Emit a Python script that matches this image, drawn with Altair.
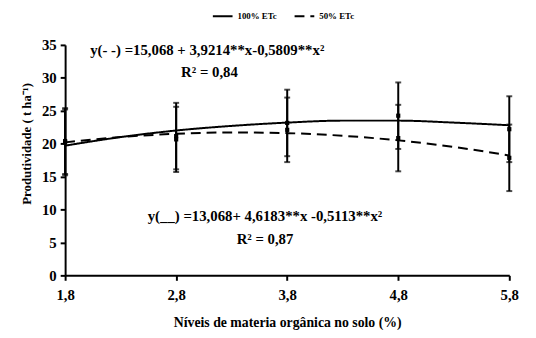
import altair as alt
import pandas as pd

# Fitted curves
curve_x = [1.8, 2.3, 2.8, 3.3, 3.8, 4.3, 4.8, 5.3, 5.8]
curve_100 = [19.7, 21.0, 22.0, 22.7, 23.2, 23.5, 23.5, 23.2, 22.8]
curve_50 = [20.2, 21.0, 21.5, 21.7, 21.6, 21.2, 20.5, 19.5, 18.2]

# Observed means with error bars
pts_x = [1.8, 2.8, 3.8, 4.8, 5.8]
mean_100 = [20.4, 21.15, 23.15, 24.25, 22.2]
err_100 = [5.0, 5.05, 5.05, 5.05, 5.0]
mean_50 = [20.2, 20.65, 22.1, 20.85, 17.85]
err_50 = [5.0, 4.95, 4.9, 5.05, 5.05]

series = ["100% ETc", "50% ETc"]
x_ticks = [1.8, 2.8, 3.8, 4.8, 5.8]
y_ticks = [0, 5, 10, 15, 20, 25, 30, 35]

eq_text = ["y(- -) =15,068 + 3,9214**x-0,5809**x²", "R² = 0,84",
           "y(__) =13,068+ 4,6183**x  -0,5113**x²", "R² = 0,87"]
eq_x = [3.08, 3.1, 3.6, 3.6]
eq_y = [34.2, 30.8, 9.0, 5.5]

curve_df = pd.DataFrame(
    [{"series": series[0], "x": a, "y": b} for a, b in zip(curve_x, curve_100)]
    + [{"series": series[1], "x": a, "y": b} for a, b in zip(curve_x, curve_50)]
)
pts_df = pd.DataFrame(
    [{"series": series[0], "x": a, "m": m, "lo": m - e, "hi": m + e} for a, m, e in zip(pts_x, mean_100, err_100)]
    + [{"series": series[1], "x": a, "m": m, "lo": m - e, "hi": m + e} for a, m, e in zip(pts_x, mean_50, err_50)]
)
txt_df = pd.DataFrame({"t": eq_text, "x": eq_x, "y": eq_y})

FONT = "Liberation Serif"
sx = alt.Scale(domain=[1.8, 5.8], nice=False, zero=False)
sy = alt.Scale(domain=[0, 35], nice=False)

xax = alt.Axis(values=x_ticks, labelExpr="replace(format(datum.value, '.1f'), '.', ',')",
               title="Níveis de materia orgânica no solo (%)", labelPadding=8, titlePadding=13,
               labelOverlap=False, labelFlush=False)
yax = alt.Axis(values=y_ticks, title="Produtividade ( t ha⁻¹)", titlePadding=8, labelOverlap=False,
               labelPadding=4, labelFlush=False, titleY=100, titleFontSize=13)


def X(f):
    return alt.X(f, scale=sx, axis=xax)


def Y(f):
    return alt.Y(f, scale=sy, axis=yax)


lines = alt.Chart(curve_df).mark_line(color="black", strokeWidth=2, interpolate="monotone").encode(
    x=X("x:Q"),
    y=Y("y:Q"),
    strokeDash=alt.StrokeDash("series:N",
        scale=alt.Scale(domain=series, range=[[1, 0], [10, 6]]),
        legend=alt.Legend(orient="none", legendX=149, legendY=-40, direction="horizontal",
                          title=None, symbolType="stroke", symbolStrokeWidth=2,
                          symbolSize=400, symbolStrokeColor="black", labelFont=FONT,
                          labelFontWeight="bold", labelFontSize=9, labelColor="black",
                          columnPadding=14)),
)

bars = alt.Chart(pts_df).mark_rule(color="black", strokeWidth=2).encode(
    x=X("x:Q"), y=Y("lo:Q"), y2="hi:Q")
caps_hi = alt.Chart(pts_df).mark_tick(color="black", orient="horizontal", size=6, thickness=2).encode(
    x=X("x:Q"), y=Y("hi:Q"))
caps_lo = alt.Chart(pts_df).mark_tick(color="black", orient="horizontal", size=6, thickness=2).encode(
    x=X("x:Q"), y=Y("lo:Q"))
marks = alt.Chart(pts_df).mark_square(color="black", size=18, opacity=1).encode(
    x=X("x:Q"), y=Y("m:Q"))

texts = alt.Chart(txt_df).mark_text(font=FONT, fontWeight="bold", fontSize=15, color="black").encode(
    x=X("x:Q"), y=Y("y:Q"), text="t:N")

chart = alt.layer(lines, bars, caps_hi, caps_lo, marks, texts).properties(
    width=451, height=234,
    padding={"left": 58, "top": 35, "right": 19, "bottom": 53},
    autosize=alt.AutoSizeParams(type="none"),
).configure_view(stroke=None).configure_axis(
    grid=False, domainColor="black", domainWidth=2, tickColor="black", tickWidth=2, tickSize=5,
    labelFont=FONT, labelFontWeight="bold", labelFontSize=15, labelColor="black",
    titleFont=FONT, titleFontWeight="bold", titleFontSize=14, titleColor="black",
)

chart.save("out.html", embed_options={"renderer": "svg", "actions": False})
